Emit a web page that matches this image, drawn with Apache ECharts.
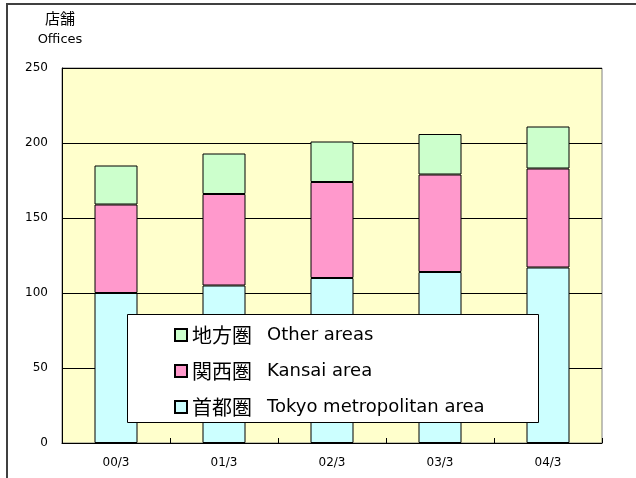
<!DOCTYPE html>
<html>
<head>
<meta charset="utf-8">
<script src="https://cdn.jsdelivr.net/npm/echarts@6/dist/echarts.min.js"></script>
<style>
html,body{margin:0;padding:0;background:#fff;}
#chart{width:636px;height:478px;}
</style>
</head>
<body>
<div id="chart"></div>
<script>
const categories = ['00/3', '01/3', '02/3', '03/3', '04/3'];
const tokyo = [100, 105, 110, 114, 117];
const kansai = [59, 61, 64, 65, 66];
const other = [26, 27, 27, 27, 28];
const yTicks = [0, 50, 100, 150, 200, 250];
const nameJa = { tokyo: '首都圏', kansai: '関西圏', other: '地方圏' };
const nameEn = { tokyo: 'Tokyo metropolitan area', kansai: 'Kansai area', other: 'Other areas' };
const colors = { tokyo: '#CCFFFF', kansai: '#FF99CC', other: '#CCFFCC' };

const enByJa = {};
Object.keys(nameJa).forEach(k => { enByJa[nameJa[k]] = nameEn[k]; });

const chart = echarts.init(document.getElementById('chart'), null, { renderer: 'canvas' });

function barSeries(key, data) {
  return {
    name: nameJa[key],
    type: 'bar',
    stack: 'total',
    data: data,
    barWidth: 43,
    itemStyle: { color: colors[key], borderColor: '#000', borderWidth: 1 },
    emphasis: { disabled: true },
    z: 2
  };
}

chart.setOption({
  animation: false,
  grid: {
    left: 62, right: 34, top: 68, bottom: 35,
    show: true, backgroundColor: '#FFFFCC', borderColor: '#808080', borderWidth: 1
  },
  xAxis: {
    type: 'category',
    data: categories,
    boundaryGap: true,
    axisLine: { lineStyle: { color: '#000', width: 1 } },
    axisTick: { show: true, inside: true, length: 5, lineStyle: { color: '#000' } },
    axisLabel: { fontFamily: 'DejaVu Sans', fontSize: 12, color: '#000', margin: 14 }
  },
  yAxis: {
    type: 'value',
    min: yTicks[0], max: yTicks[yTicks.length - 1], interval: 50,
    axisLine: { show: true, lineStyle: { color: '#000', width: 1 } },
    axisTick: { show: false },
    splitLine: { show: true, lineStyle: { color: '#000', width: 1 } },
    axisLabel: { fontFamily: 'DejaVu Sans', fontSize: 12, color: '#000', margin: 14 }
  },
  legend: {
    orient: 'vertical',
    left: 174, top: 325, padding: 0,
    itemWidth: 12, itemHeight: 12, itemGap: 16,
    icon: 'rect',
    data: [nameJa.other, nameJa.kansai, nameJa.tokyo],
    selectedMode: false,
    z: 10,
    formatter: n => '{jp|' + n + '}{en|' + enByJa[n] + '}',
    textStyle: {
      color: '#000',
      rich: {
        jp: { fontFamily: 'Noto Sans CJK JP', fontSize: 20, lineHeight: 20, color: '#000' },
        en: { fontFamily: 'DejaVu Sans', fontSize: 18, lineHeight: 20, color: '#000', padding: [0, 0, 0, 15] }
      }
    }
  },
  graphic: [
    { type: 'polyline', shape: { points: [[7, 478], [7, 4], [636, 4]] }, style: { stroke: '#404040', lineWidth: 2, fill: null }, z: 1 },
    { type: 'rect', shape: { x: 127.5, y: 314.5, width: 411, height: 108 }, style: { fill: '#fff', stroke: '#000', lineWidth: 1 }, z: 5 },
    { type: 'text', x: 60, y: 18, style: { text: '店舗', font: '15px "Noto Sans CJK JP"', fill: '#000', textAlign: 'center', textVerticalAlign: 'middle' }, z: 5 },
    { type: 'text', x: 60, y: 40, style: { text: 'Offices', font: '13px "DejaVu Sans"', fill: '#000', textAlign: 'center', textVerticalAlign: 'middle' }, z: 5 }
  ],
  series: [
    barSeries('tokyo', tokyo),
    barSeries('kansai', kansai),
    barSeries('other', other)
  ]
});
</script>
</body>
</html>
